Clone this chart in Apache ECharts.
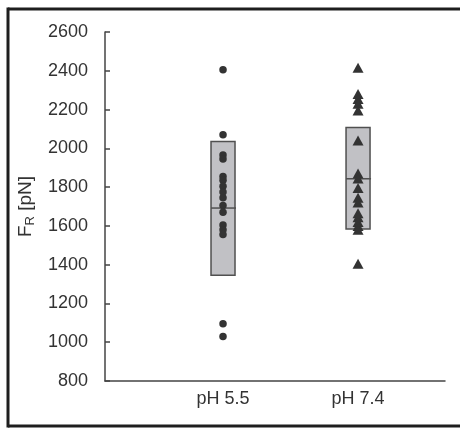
<!DOCTYPE html>
<html>
<head>
<meta charset="utf-8">
<script src="https://cdn.jsdelivr.net/npm/echarts@6/dist/echarts.min.js"></script>
<style>
html,body{margin:0;padding:0;background:#fff;overflow:hidden;}
#main{width:460px;height:428px;}
</style>
</head>
<body>
<div id="main"></div>
<script>
// ---- data ----
var groups = ['pH 5.5', 'pH 7.4'];
var groupPos = [1, 2];
var yTicks = [800, 1000, 1200, 1400, 1600, 1800, 2000, 2200, 2400, 2600];
var ph55Points = [2405, 2070, 1965, 1945, 1855, 1835, 1805, 1775, 1745, 1705, 1670, 1605, 1580, 1555, 1095, 1030];
var ph74Points = [2415, 2280, 2255, 2230, 2195, 2040, 1870, 1845, 1795, 1745, 1720, 1665, 1645, 1620, 1600, 1580, 1405];
var boxLow = [1345, 1584];
var boxHigh = [2035, 2108];
var boxMedian = [1692, 1843];

var chart = echarts.init(document.getElementById('main'));

var boxData = groupPos.map(function (p, i) { return [p, boxLow[i], boxHigh[i], boxMedian[i]]; });
var FONT = 'Liberation Sans, Arial, sans-serif';
var frameStyle = { stroke: '#1e1e1e', lineWidth: 3 };

var option = {
  animation: false,
  backgroundColor: '#fff',
  graphic: [
    { type: 'line', shape: { x1: 8, y1: 9, x2: 470, y2: 9 }, style: frameStyle, z: 100 },
    { type: 'line', shape: { x1: 8, y1: 426, x2: 470, y2: 426 }, style: frameStyle, z: 100 },
    { type: 'line', shape: { x1: 8, y1: 7.5, x2: 8, y2: 427.5 }, style: frameStyle, z: 100 }
  ],
  grid: { left: 105, right: 15, top: 32, bottom: 47 },
  xAxis: {
    type: 'value',
    min: 0.126,
    max: 2.644,
    splitLine: { show: false },
    axisLine: { lineStyle: { color: '#444', width: 1.5 } },
    axisTick: { show: false },
    axisLabel: {
      customValues: groupPos,
      formatter: function (v) { var i = groupPos.indexOf(v); return i >= 0 ? groups[i] : ''; },
      color: '#333',
      fontFamily: FONT,
      fontSize: 18,
      margin: 9
    }
  },
  yAxis: {
    type: 'value',
    min: yTicks[0],
    max: yTicks[yTicks.length - 1],
    interval: 200,
    splitLine: { show: false },
    axisLine: { show: true, lineStyle: { color: '#444', width: 1.5 } },
    axisTick: { show: true, inside: true, length: 5, lineStyle: { color: '#444', width: 1.5 } },
    axisLabel: {
      color: '#333',
      fontFamily: FONT,
      fontSize: 18,
      margin: 17,
      formatter: function (v) { return String(v); }
    },
    name: 'F{sub|R} [pN]',
    nameLocation: 'middle',
    nameGap: 64,
    nameRotate: 90,
    nameTextStyle: {
      color: '#333',
      fontFamily: FONT,
      fontSize: 19,
      rich: {
        sub: { fontSize: 13, verticalAlign: 'bottom', color: '#333', fontFamily: FONT, padding: [9, 0, 0, 0] }
      }
    }
  },
  series: [
    {
      type: 'custom',
      data: boxData,
      encode: { x: 0, y: [1, 2, 3] },
      z: 1,
      renderItem: function (params, api) {
        var x = api.value(0);
        var lo = api.coord([x, api.value(1)]);
        var hi = api.coord([x, api.value(2)]);
        var md = api.coord([x, api.value(3)]);
        var w = 24;
        return {
          type: 'group',
          children: [
            { type: 'rect', shape: { x: lo[0] - w / 2, y: hi[1], width: w, height: lo[1] - hi[1] },
              style: { fill: '#c1c1c5', stroke: '#505050', lineWidth: 1.5 } },
            { type: 'line', shape: { x1: md[0] - w / 2, y1: md[1], x2: md[0] + w / 2 + 1, y2: md[1] },
              style: { stroke: '#505050', lineWidth: 1.5 } }
          ]
        };
      }
    },
    {
      type: 'scatter',
      symbol: 'circle',
      symbolSize: 7.5,
      z: 3,
      itemStyle: { color: '#333', opacity: 1 },
      data: ph55Points.map(function (v) { return [groupPos[0], v]; })
    },
    {
      type: 'scatter',
      symbol: 'triangle',
      symbolSize: [11, 10],
      z: 3,
      itemStyle: { color: '#333', opacity: 1 },
      data: ph74Points.map(function (v) { return [groupPos[1], v]; })
    }
  ]
};
chart.setOption(option);
</script>
</body>
</html>
